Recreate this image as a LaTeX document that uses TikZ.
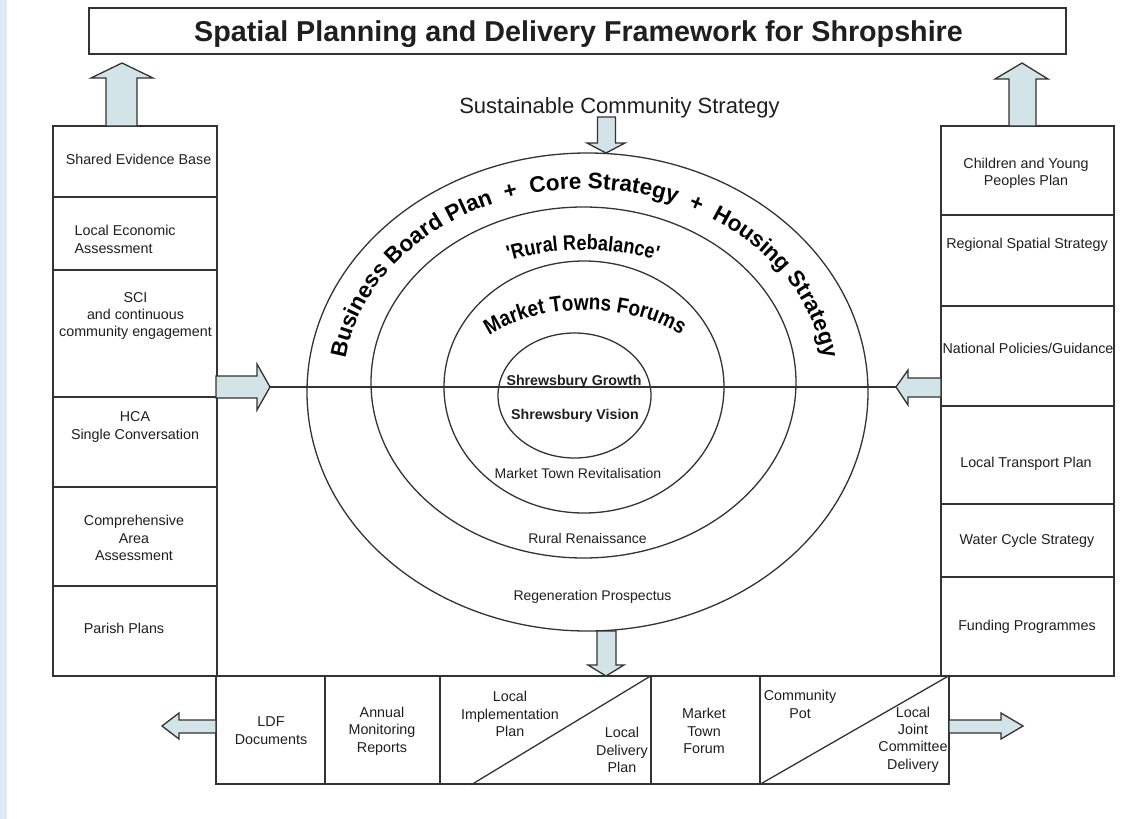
\documentclass[tikz,border=0pt]{standalone}
\usepackage{fontspec}
\setmainfont{Liberation Sans}
\newfontfamily\arcnarrow[FakeStretch=0.86]{Liberation Sans}
\usetikzlibrary{decorations.text}
\definecolor{linec}{RGB}{51,51,51}
\definecolor{arrowfill}{RGB}{210,228,232}
\definecolor{stripc}{RGB}{221,233,244}
\begin{document}
\begin{tikzpicture}[x=1pt,y=1pt,
  cell/.style 2 args={draw=linec,line width=1.4pt,inner sep=0pt,minimum width=#1,minimum height=#2},
  txt/.style={font=\fontsize{14.3}{17.3}\selectfont,align=center,inner sep=0pt,text=black!88},
  bold14/.style={font=\fontsize{14.2}{17}\selectfont\bfseries,inner sep=0pt,anchor=base,text=black!88},
  reg14/.style={font=\fontsize{14}{17}\selectfont,inner sep=0pt,anchor=base,text=black!88},
  blockarrow/.style={fill=arrowfill,draw=linec,line width=1.3pt,line join=miter},
  ring/.style={draw=linec,line width=1.3pt},
  conn/.style={draw=linec,line width=1.3pt}]

\useasboundingbox (0,0) rectangle (1128,-819);
\fill[white] (0,0) rectangle (1128,-819);
\fill[stripc] (0,0) rectangle (7,-819);

% title
\node[cell={977}{46},line width=2.2pt] (title) at (577.5,-31) {};
\node[anchor=base,inner sep=0pt,font=\fontsize{28.7}{34}\selectfont\bfseries,text=black!88] (titletext) at (578.5,-41.5) {Spatial Planning and Delivery Framework for Shropshire};

% left column
\node[cell={164}{71}] (L1) at (135,-161.5) {};
\node[cell={164}{73}] (L2) at (135,-233.5) {};
\node[cell={164}{127}] (L3) at (135,-333.5) {};
\node[cell={164}{90}] (L4) at (135,-442) {};
\node[cell={164}{99}] (L5) at (135,-536.5) {};
\node[cell={164}{90}] (L6) at (135,-631) {};

% right column
\node[cell={173}{89}] (R1) at (1027.5,-170.5) {};
\node[cell={173}{91}] (R2) at (1027.5,-260.5) {};
\node[cell={173}{100}] (R3) at (1027.5,-356) {};
\node[cell={173}{98}] (R4) at (1027.5,-455) {};
\node[cell={173}{73}] (R5) at (1027.5,-540.5) {};
\node[cell={173}{99}] (R6) at (1027.5,-626.5) {};

% bottom row
\node[cell={109}{108}] (B1) at (270.5,-730) {};
\node[cell={115}{108}] (B2) at (382.5,-730) {};
\node[cell={211}{108}] (B3) at (545.5,-730) {};
\node[cell={109}{108}] (B4) at (705.5,-730) {};
\node[cell={189}{108}] (B5) at (854.5,-730) {};
\draw[conn] ([xshift=32pt]B3.south west) -- (B3.north east);
\draw[conn] (B5.south west) -- (B5.north east);

% rings
\draw[ring] (587.5,-392) ellipse [x radius=280.5, y radius=239];
\draw[ring] (583.5,-382.5) ellipse [x radius=212.5, y radius=175.5];
\draw[ring] (584,-387) ellipse [x radius=140, y radius=126];
\draw[ring] (574.5,-395.5) ellipse [x radius=76.5, y radius=62.5];

% horizontal axis
\coordinate (tipL) at (270,-387);
\coordinate (tipR) at (896,-387);
\draw[conn] (tipL) -- (tipR);

% block arrows
\filldraw[blockarrow] (106,-126) -- (106,-78) -- (91,-78) -- (122,-63) -- (153,-78) -- (137,-78) -- (137,-126) -- cycle;
\filldraw[blockarrow] (1009,-126) -- (1009,-79) -- (995,-79) -- (1022,-63) -- (1048,-79) -- (1036,-79) -- (1036,-126) -- cycle;
\filldraw[blockarrow] (597.5,-117) -- (615.5,-117) -- (615.5,-143) -- (625,-143) -- (606,-153) -- (587,-143) -- (597.5,-143) -- cycle;
\filldraw[blockarrow] (597,-631) -- (616,-631) -- (616,-665) -- (624,-665) -- (606,-676) -- (588,-665) -- (597,-665) -- cycle;
\filldraw[blockarrow] (216,-376) -- (257,-376) -- (257,-364) -- (tipL) -- (257,-410) -- (257,-398) -- (216,-398) -- cycle;
\filldraw[blockarrow] (941,-378) -- (908,-378) -- (908,-370) -- (tipR) -- (908,-405) -- (908,-397) -- (941,-397) -- cycle;
\filldraw[blockarrow] (216,-720) -- (179,-720) -- (179,-713) -- (162,-726) -- (179,-739) -- (179,-733) -- (216,-733) -- cycle;
\filldraw[blockarrow] (949,-720) -- (1001,-720) -- (1001,-713) -- (1023,-726) -- (1001,-739) -- (1001,-733) -- (949,-733) -- cycle;

% arc texts
\path[decorate,decoration={text along path,text align=center,
  text={|\fontsize{22.5}{27}\selectfont\bfseries|Business Board Plan{\ }{\ }+{\ }{\ }Core Strategy{\ }{\ }+{\ }{\ }Housing Strategy}}]
  (343,-387) arc[start angle=180,end angle=0,x radius=241.5,y radius=198];
\path[decorate,decoration={text along path,text align=center,
  text={|\arcnarrow\bfseries\fontsize{21}{25}\selectfont|'Rural Rebalance'}}]
  (393,-387) arc[start angle=180,end angle=0,x radius=190,y radius=137];
\path[decorate,decoration={text along path,text align=center,
  text={|\arcnarrow\bfseries\fontsize{22}{26}\selectfont|Market Towns Forums}}]
  (456,-387) arc[start angle=180,end angle=0,x radius=129,y radius=77];

% centre texts
\node[anchor=base,inner sep=0pt,font=\fontsize{22}{26}\selectfont,text=black!88] (scs) at (619.5,-113) {Sustainable Community Strategy};
\node[bold14] (sg) at (574,-385) {Shrewsbury Growth};
\node[bold14] (sv) at (575,-419) {Shrewsbury Vision};
\node[reg14] (mtr) at (578,-478) {Market Town Revitalisation};
\node[reg14] (rr) at (587.5,-543) {Rural Renaissance};
\node[reg14] (rp) at (592.5,-600) {Regeneration Prospectus};

% left column texts
\node[txt] (tL1) at (138.5,-159) {Shared Evidence Base};
\node[txt,align=left,anchor=west] (tL2) at (74.5,-239.5) {Local Economic\\Assessment};
\node[txt] (tL3) at (135.5,-316) {SCI\\and continuous\\community engagement};
\node[txt] (tL4) at (135,-427) {HCA\\Single Conversation};
\node[txt] (tL5) at (134,-538) {Comprehensive\\Area\\Assessment};
\node[txt] (tL6) at (124,-628) {Parish Plans};

% right column texts
\node[txt] (tR1) at (1026,-173) {Children and Young\\Peoples Plan};
\node[txt] (tR2) at (1027,-245) {Regional Spatial Strategy};
\node[txt] (tR3) at (1028,-348) {National Policies/Guidance};
\node[txt] (tR4) at (1026,-464) {Local Transport Plan};
\node[txt] (tR5) at (1027,-541) {Water Cycle Strategy};
\node[txt] (tR6) at (1027,-627) {Funding Programmes};

% bottom row texts
\node[txt] (tB1) at (271,-730.5) {LDF\\Documents};
\node[txt] (tB2) at (382,-731) {Annual\\Monitoring\\Reports};
\node[txt] (tB3a) at (510,-714) {Local\\Implementation\\Plan};
\node[txt] (tB3b) at (622,-750) {Local\\Delivery\\Plan};
\node[txt] (tB4) at (704,-731) {Market\\Town\\Forum};
\node[txt] (tB5a) at (800,-704.5) {Community\\Pot};
\node[txt] (tB5b) at (913,-739.5) {Local\\Joint\\Committee\\Delivery};
\end{tikzpicture}
\end{document}
